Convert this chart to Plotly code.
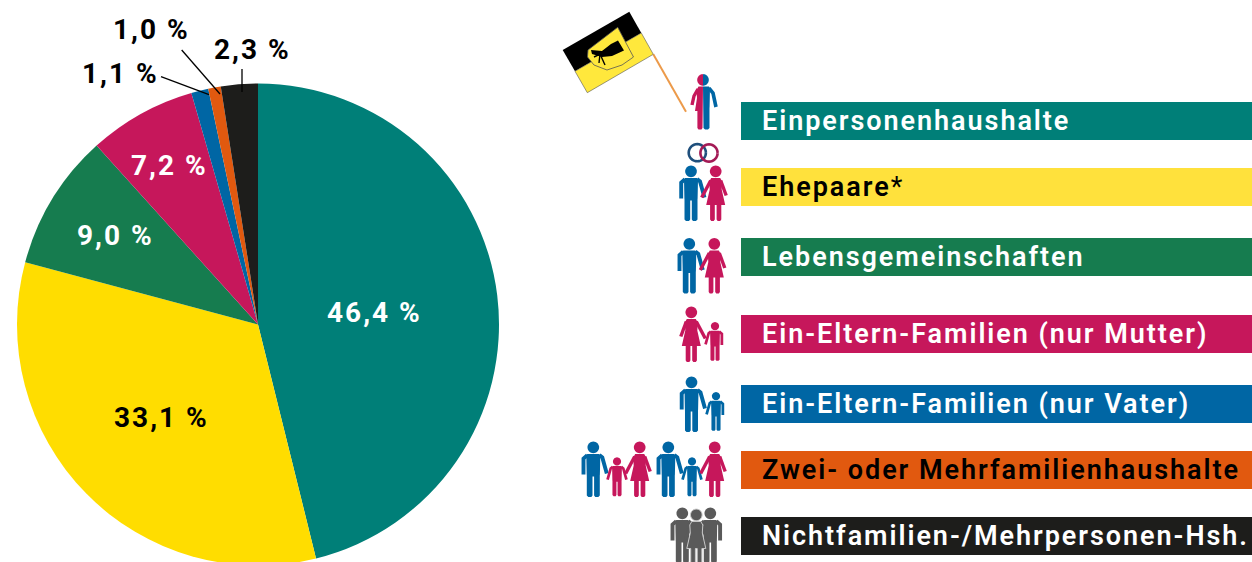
import math
import plotly.graph_objects as go

W, H = 1252, 570

categories = ["Einpersonenhaushalte", "Ehepaare*", "Lebensgemeinschaften",
              "Ein-Eltern-Familien (nur Mutter)", "Ein-Eltern-Familien (nur Vater)",
              "Zwei- oder Mehrfamilienhaushalte", "Nichtfamilien-/Mehrpersonen-Hsh."]
values = [46.4, 33.1, 9.0, 7.2, 1.1, 1.0, 2.3]
drawn_shares = [46.13, 33.03, 9.16, 7.22, 1.15, 0.84, 2.47]
slice_colors = ["#007F78", "#FFDD00", "#167C4F", "#C6175B", "#0066A4", "#E1590F", "#1D1D1B"]
legend_colors = ["#007F78", "#FFE13C", "#167C4F", "#C6175B", "#0066A4", "#E1590F", "#1D1D1B"]
legend_text_colors = ["white", "black", "white", "white", "white", "black", "white"]
legend_tops = [102, 168, 238, 315, 385, 451, 517]
label_pos = [(375, 312), (161, 417), (115, 236), (169, 165), (120, 74), (151, 30), (252, 49)]
label_colors = ["white", "black", "white", "white", "black", "black", "black"]

BLUE, PINK, GRAY = "#0066A4", "#C6175B", "#5A5A5A"
FONT = "Roboto"
shapes = []


def P(x, y):
    return f"{x / W:.5f} {1 - y / H:.5f}"


def add_path(pts, fill=None, line=None, lw=0, closed=True):
    d = "M " + " L ".join(P(x, y) for x, y in pts) + (" Z" if closed else "")
    shapes.append(dict(type="path", xref="paper", yref="paper", path=d,
                       fillcolor=fill if fill else "rgba(0,0,0,0)",
                       line=dict(color=line if line else "rgba(0,0,0,0)", width=lw)))


def circle(cx, cy, r, a0=0, a1=360, n=32):
    return [(cx + r * math.cos(math.radians(a0 + (a1 - a0) * i / n)),
             cy + r * math.sin(math.radians(a0 + (a1 - a0) * i / n))) for i in range(n + 1)]


def man(cx, top, color, s=1.0, la="down", ra="down", outline=None):
    T = lambda pts: [(cx + x * s, top + y * s) for x, y in pts]
    add_path(circle(cx, top + 5.9 * s, 5.8 * s), color)
    add_path(T([(-6, 12.5), (6, 12.5), (7, 14), (6.6, 33), (6.5, 34), (6.5, 54), (5, 55.5), (2, 55.5), (0.8, 54),
                (0.8, 35), (-0.8, 35), (-0.8, 54), (-2, 55.5), (-5, 55.5), (-6.5, 54), (-6.5, 34), (-6.6, 33), (-7, 14)]),
             color, outline, 1 if outline else 0)
    ends = {"down": [(9.8, 17), (9.8, 33)], "out": [(9, 16), (13.5, 32)]}
    add_path(T([(6, 13.6)] + ends[ra]), None, color, 3.9 * s, closed=False)
    add_path(T([(-x, y) for x, y in [(6, 13.6)] + ends[la]]), None, color, 3.9 * s, closed=False)


def woman(cx, top, color, la="down", ra="down", outline=None):
    T = lambda pts: [(cx + x, top + y) for x, y in pts]
    add_path(circle(cx, top + 5.9, 5.8), color, outline, 1 if outline else 0)
    ends = {"down": [(10.5, 30)], "out": [(14, 32)]}
    add_path(T([(5, 15)] + ends[ra]), None, color, 3.4, closed=False)
    add_path(T([(-x, y) for x, y in [(5, 15)] + ends[la]]), None, color, 3.4, closed=False)
    add_path(T([(-4.5, 12.5), (4.5, 12.5), (6.5, 16), (6, 24), (9.5, 39.5), (5.6, 39.5), (5.6, 54), (4.5, 55.5), (2, 55.5),
                (0.9, 54), (0.9, 39.5), (-0.9, 39.5), (-0.9, 54), (-2, 55.5), (-4.5, 55.5), (-5.6, 54), (-5.6, 39.5),
                (-9.5, 39.5), (-6, 24), (-6.5, 16)]), color, outline, 1 if outline else 0)


def half_person(cx, top):
    add_path(circle(cx, top + 5.9, 5.8, 90, 270), PINK)
    add_path(circle(cx, top + 5.9, 5.8, -90, 90), BLUE)
    T = lambda pts: [(cx + x, top + y) for x, y in pts]
    add_path(T([(0, 12.5), (6, 12.5), (7, 14), (6.6, 33), (6.5, 34), (6.5, 54), (5, 55.5), (2, 55.5), (0.5, 54)]), BLUE)
    add_path(T([(6, 14), (10, 19), (13, 33)]), None, BLUE, 3.6, closed=False)
    add_path(T([(0, 12.5), (-4.5, 12.5), (-6.5, 16), (-6, 24), (-8, 37), (-5.6, 37), (-5.6, 54), (-4.5, 55.5), (-1.5, 55.5), (-0.5, 54)]), PINK)
    add_path(T([(-5, 15), (-9, 22), (-11, 31)]), None, PINK, 3.4, closed=False)


# flag and pole
add_path([(653.3, 54.3), (686, 111.7)], None, "#EC9A4A", 2, closed=False)
add_path([(562.7, 50), (629.3, 11.7), (641.3, 33), (575, 71.3)], "#000000")
add_path([(575, 71.3), (641.3, 33), (653.3, 54.3), (587.3, 92.7)], "#FFE83C", "#555555", 0.6)
add_path([(588, 50), (617.7, 27.3), (633.5, 57), (622, 65), (607, 70), (594, 65), (587.5, 57)], "#FFE83C", "#555555", 0.8)
add_path([(591, 50), (602, 51), (611, 44), (618, 40.5), (624, 50.5), (612, 56), (602, 57), (592, 54)], "#000000")
for end in [(594, 57), (599, 63), (605, 65)]:
    add_path([(600, 54), end], None, "#000000", 1.4, closed=False)

# people icons
half_person(703, 74)
add_path(circle(697.3, 152.7, 8.6), None, "#1F4F7C", 2.6, closed=False)
add_path(circle(709, 153, 8.6), None, "#A31A55", 2.6, closed=False)
man(691, 165.5, BLUE, ra="out")
woman(715.7, 165.5, PINK, la="out")
man(689.3, 238, BLUE, ra="out")
woman(714.3, 238, PINK, la="out")
woman(691.3, 306.5, PINK, ra="out")
man(715, 322, PINK, s=0.7, la="out")
man(691.5, 376.5, BLUE, ra="out")
man(716, 392, BLUE, s=0.7, la="out")
man(593.3, 441.5, BLUE, ra="out")
man(617, 457.3, PINK, s=0.7, la="out", ra="out")
woman(639.7, 441.5, PINK, la="out")
man(668.3, 441.5, BLUE, ra="out")
man(692, 457.3, BLUE, s=0.7, la="out", ra="out")
woman(714.7, 441.5, PINK, la="out")
man(682.3, 507.5, GRAY)
man(710.3, 507.5, GRAY)
woman(696.3, 509, GRAY, outline="#C8C8C8")

# leader lines
add_path([(181.7, 50), (220, 94)], None, "#000000", 1.3, closed=False)
add_path([(161, 76.7), (209, 94.7)], None, "#000000", 1.3, closed=False)
add_path([(242, 69), (242, 92)], None, "#000000", 1.3, closed=False)

annotations = []
for name, col, tcol, top in zip(categories, legend_colors, legend_text_colors, legend_tops):
    shapes.append(dict(type="rect", xref="paper", yref="paper", x0=741 / W, x1=1, y0=1 - (top + 38) / H, y1=1 - top / H,
                       fillcolor=col, line=dict(width=0), layer="below"))
    text = name.replace("*", '<span style="font-weight:400">*</span>')
    annotations.append(dict(text=text, x=759.5 / W, y=1 - (top + 19) / H, xref="paper", yref="paper", xanchor="left",
                            yanchor="middle", showarrow=False, font=dict(family=FONT, size=27, color=tcol, weight=600)))
for v, (x, y), c in zip(values, label_pos, label_colors):
    annotations.append(dict(text=f"{v:.1f} %".replace(".", ","), x=x / W, y=1 - y / H, xref="paper", yref="paper",
                            xanchor="center", yanchor="middle", showarrow=False,
                            font=dict(family=FONT, size=28, color=c, weight=700)))

fig = go.Figure(go.Pie(values=drawn_shares, labels=categories, sort=False, direction="clockwise", rotation=0,
                       marker=dict(colors=slice_colors, line=dict(width=0)), textinfo="none", hoverinfo="skip",
                       domain=dict(x=[17 / W, 499 / W], y=[1 - 565.5 / H, 1 - 83.5 / H])))
fig.update_layout(width=W, height=H, margin=dict(l=0, r=0, t=0, b=0), showlegend=False, paper_bgcolor="white",
                  shapes=shapes, annotations=annotations)
js = """
document.body.style.margin='0';document.documentElement.style.overflow='hidden';document.body.style.overflow='hidden';
var gd=document.getElementById('{plot_id}');
function sp(){
  gd.querySelectorAll('.annotation-text').forEach(function(t,i){
    if(t.dataset.spaced)return;
    t.dataset.spaced='1';
    if(i<7){
      var a=t.getBoundingClientRect().left;
      t.style.letterSpacing='1.95px';
      var b=t.getBoundingClientRect().left;
      t.setAttribute('x',(parseFloat(t.getAttribute('x'))||0)+(a-b));
    } else { t.style.letterSpacing='2px'; }
  });
}
sp();setTimeout(sp,50);if(gd.on)gd.on('plotly_afterplot',sp);
"""
fig.write_html("out.html", config=dict(displayModeBar=False), post_script=js)
